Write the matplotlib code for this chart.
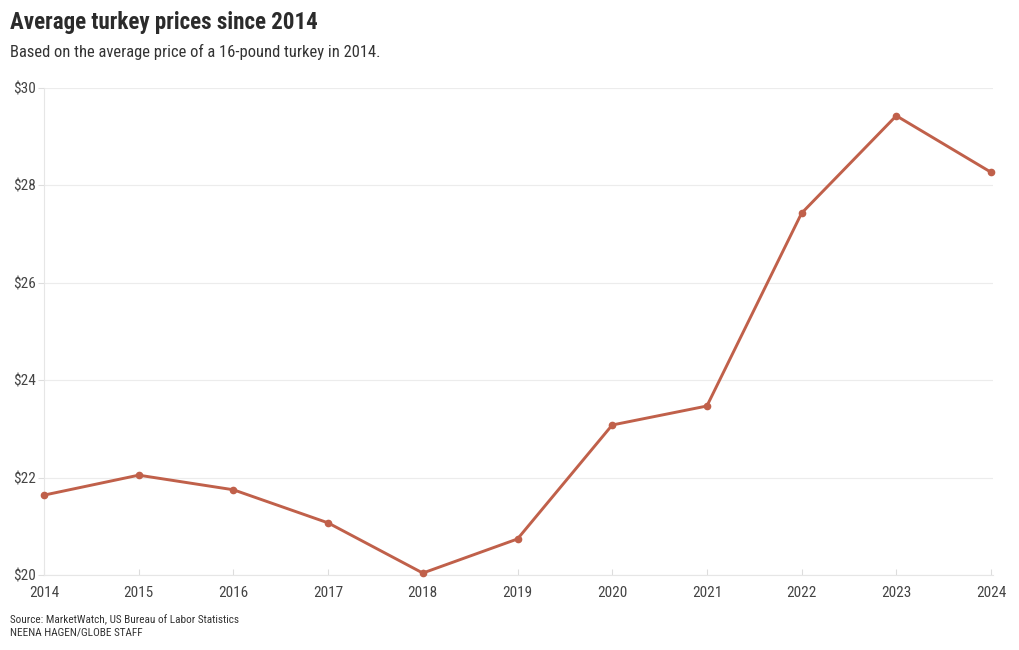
import matplotlib.pyplot as plt
from matplotlib import font_manager

years = [2014, 2015, 2016, 2017, 2018, 2019, 2020, 2021, 2022, 2023, 2024]
prices = [21.64, 22.05, 21.75, 21.07, 20.04, 20.74, 23.08, 23.47, 27.43, 29.43, 28.27]
y_ticks = [20, 22, 24, 26, 28, 30]
y_labels = ['$20', '$22', '$24', '$26', '$28', '$30']

names = {f.name for f in font_manager.fontManager.ttflist}
family = 'Roboto'
for cand in ['Roboto Condensed', 'Liberation Sans Narrow', 'DejaVu Sans Condensed']:
    if cand in names:
        family = cand
        break
plt.rcParams['font.family'] = [family, 'DejaVu Sans']

W, H = 1020, 650
fig = plt.figure(figsize=(W / 100, H / 100), dpi=100)
ax = fig.add_axes([44 / W, 1 - 575 / H, (993 - 44) / W, (575 - 88) / H])

color = '#c0604a'
ax.plot(years, prices, color=color, lw=2.1, marker='o', ms=4.5, zorder=3, clip_on=False)

ax.set_xlim(2014, 2024 + 2 * 10 / (991 - 44))
ax.set_ylim(20, 30)
ax.set_xticks(years)
ax.set_xticklabels([str(y) for y in years])
ax.set_yticks(y_ticks)
ax.set_yticklabels(y_labels)
ax.grid(axis='y', color='#ececec', lw=0.8)
ax.set_axisbelow(True)
for s in ['top', 'right']:
    ax.spines[s].set_visible(False)
for s in ['left', 'bottom']:
    ax.spines[s].set_color('#e6e6e6')
    ax.spines[s].set_linewidth(0.8)
ax.tick_params(axis='y', length=4, color='#dddddd', labelsize=11, labelcolor='#444444', pad=2)
ax.tick_params(axis='x', length=4, direction='in', color='#dddddd', labelsize=11, labelcolor='#444444', pad=8)

fig.text(10 / W, 1 - 22 / H, 'Average turkey prices since 2014', fontsize=16.6,
         fontweight='bold', color='#2b2b2b', va='center', ha='left')
fig.text(10 / W, 1 - 52 / H, 'Based on the average price of a 16-pound turkey in 2014.',
         fontsize=11.9, color='#333333', va='center', ha='left')
fig.text(10 / W, 1 - 620 / H, 'Source: MarketWatch, US Bureau of Labor Statistics',
         fontsize=8.1, color='#333333', va='center', ha='left')
fig.text(10 / W, 1 - 633 / H, 'NEENA HAGEN/GLOBE STAFF',
         fontsize=8.1, color='#333333', va='center', ha='left')

fig.savefig('out.png', dpi=100)
